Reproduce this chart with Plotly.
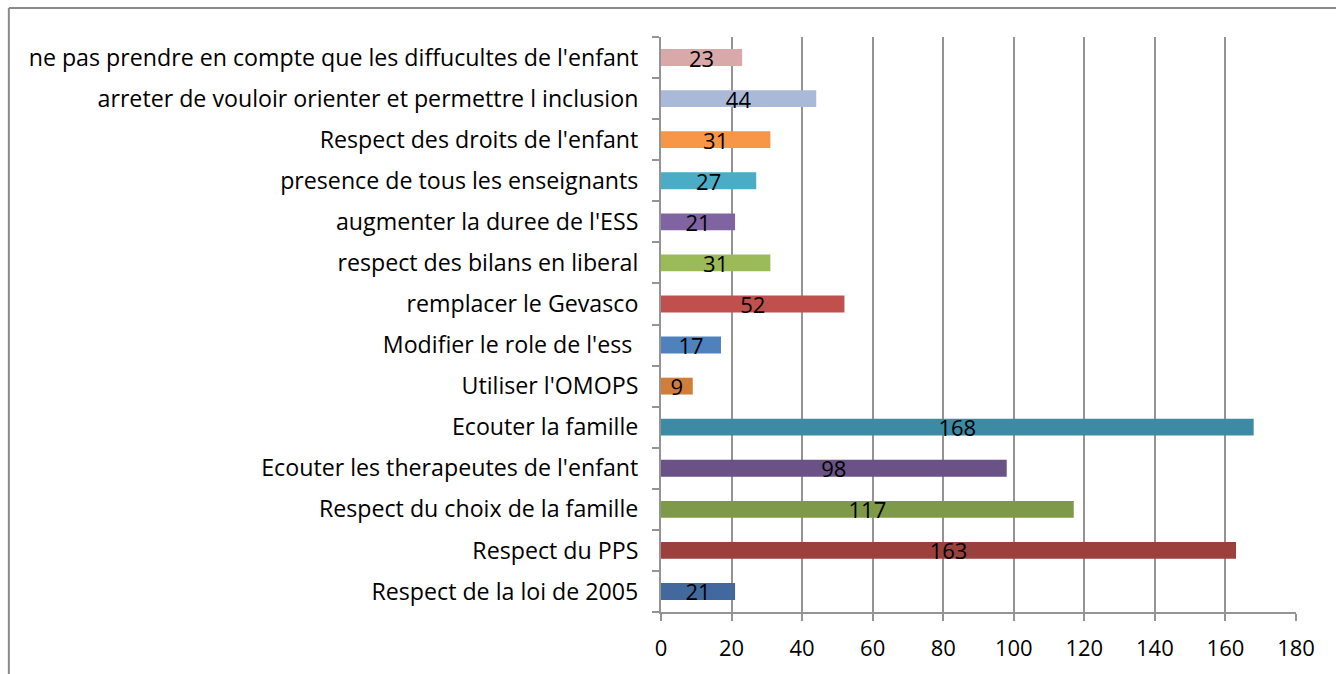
import plotly.graph_objects as go

# Categories listed bottom to top, as drawn on the vertical axis
categories = [
    "Respect de la loi de 2005",
    "Respect du PPS",
    "Respect du choix de la famille",
    "Ecouter les therapeutes de l'enfant",
    "Ecouter la famille",
    "Utiliser l'OMOPS",
    "Modifier le role de l'ess\u00a0",
    "remplacer le Gevasco",
    "respect des bilans en liberal",
    "augmenter la duree de l'ESS",
    "presence de tous les enseignants",
    "Respect des droits de l'enfant",
    "arreter de vouloir orienter et permettre l inclusion",
    "ne pas prendre en compte que les diffucultes de l'enfant",
]
counts = [21, 163, 117, 98, 168, 9, 17, 52, 31, 21, 27, 31, 44, 23]
x_ticks = [0, 20, 40, 60, 80, 100, 120, 140, 160, 180]

bar_colors = [
    "#41699E", "#9C403D", "#7E9A48", "#6A5186", "#3C8AA3", "#D07E3A",
    "#4F81BD", "#C0504D", "#9BBB59", "#8064A2", "#4BACC6", "#F79646",
    "#AAB9D7", "#D9A9A9",
]

FONT = "Open Sans, Noto Sans, sans-serif"
FSIZE = 22
GRID = "#949494"

fig = go.Figure(
    go.Bar(
        x=counts,
        y=categories,
        orientation="h",
        marker=dict(color=bar_colors, line=dict(width=0)),
        text=[str(v) for v in counts],
        textposition="inside",
        insidetextanchor="middle",
        textangle=0,
        constraintext="none",
        textfont=dict(family=FONT, size=FSIZE, color="#000000"),
        cliponaxis=False,
        hoverinfo="x+y",
    )
)

fig.update_layout(
    width=1336,
    height=674,
    margin=dict(l=661, r=40, t=37, b=62),
    paper_bgcolor="#FFFFFF",
    plot_bgcolor="#FFFFFF",
    bargap=0.59,
    showlegend=False,
    font=dict(family=FONT, size=FSIZE, color="#000000"),
    xaxis=dict(
        range=[0, 180],
        tickvals=x_ticks,
        ticktext=[str(t) for t in x_ticks],
        showgrid=True,
        gridcolor=GRID,
        gridwidth=2,
        zeroline=False,
        showline=True,
        linecolor=GRID,
        linewidth=2,
        ticks="outside",
        ticklen=7,
        tickwidth=2,
        tickcolor=GRID,
        ticklabelstandoff=9,
        tickfont=dict(family=FONT, size=FSIZE, color="#000000"),
        fixedrange=True,
    ),
    yaxis=dict(
        categoryorder="array",
        categoryarray=categories,
        showgrid=False,
        zeroline=False,
        showline=True,
        linecolor=GRID,
        linewidth=2,
        ticks="outside",
        tickson="boundaries",
        ticklen=7,
        tickwidth=2,
        tickcolor=GRID,
        ticklabelstandoff=16,
        tickfont=dict(family=FONT, size=23.2, color="#000000"),
        fixedrange=True,
    ),
)

# Outer chart frame (top and left edges visible within the canvas)
fig.add_shape(type="line", xref="paper", yref="paper",
              x0=-1.027, x1=1.07, y0=1.0505, y1=1.0505,
              line=dict(color="#8A8A8A", width=2))
fig.add_shape(type="line", xref="paper", yref="paper",
              x0=-1.027, x1=-1.027, y0=1.0505, y1=-0.11,
              line=dict(color="#8A8A8A", width=2))

fig.write_html("out.html")
